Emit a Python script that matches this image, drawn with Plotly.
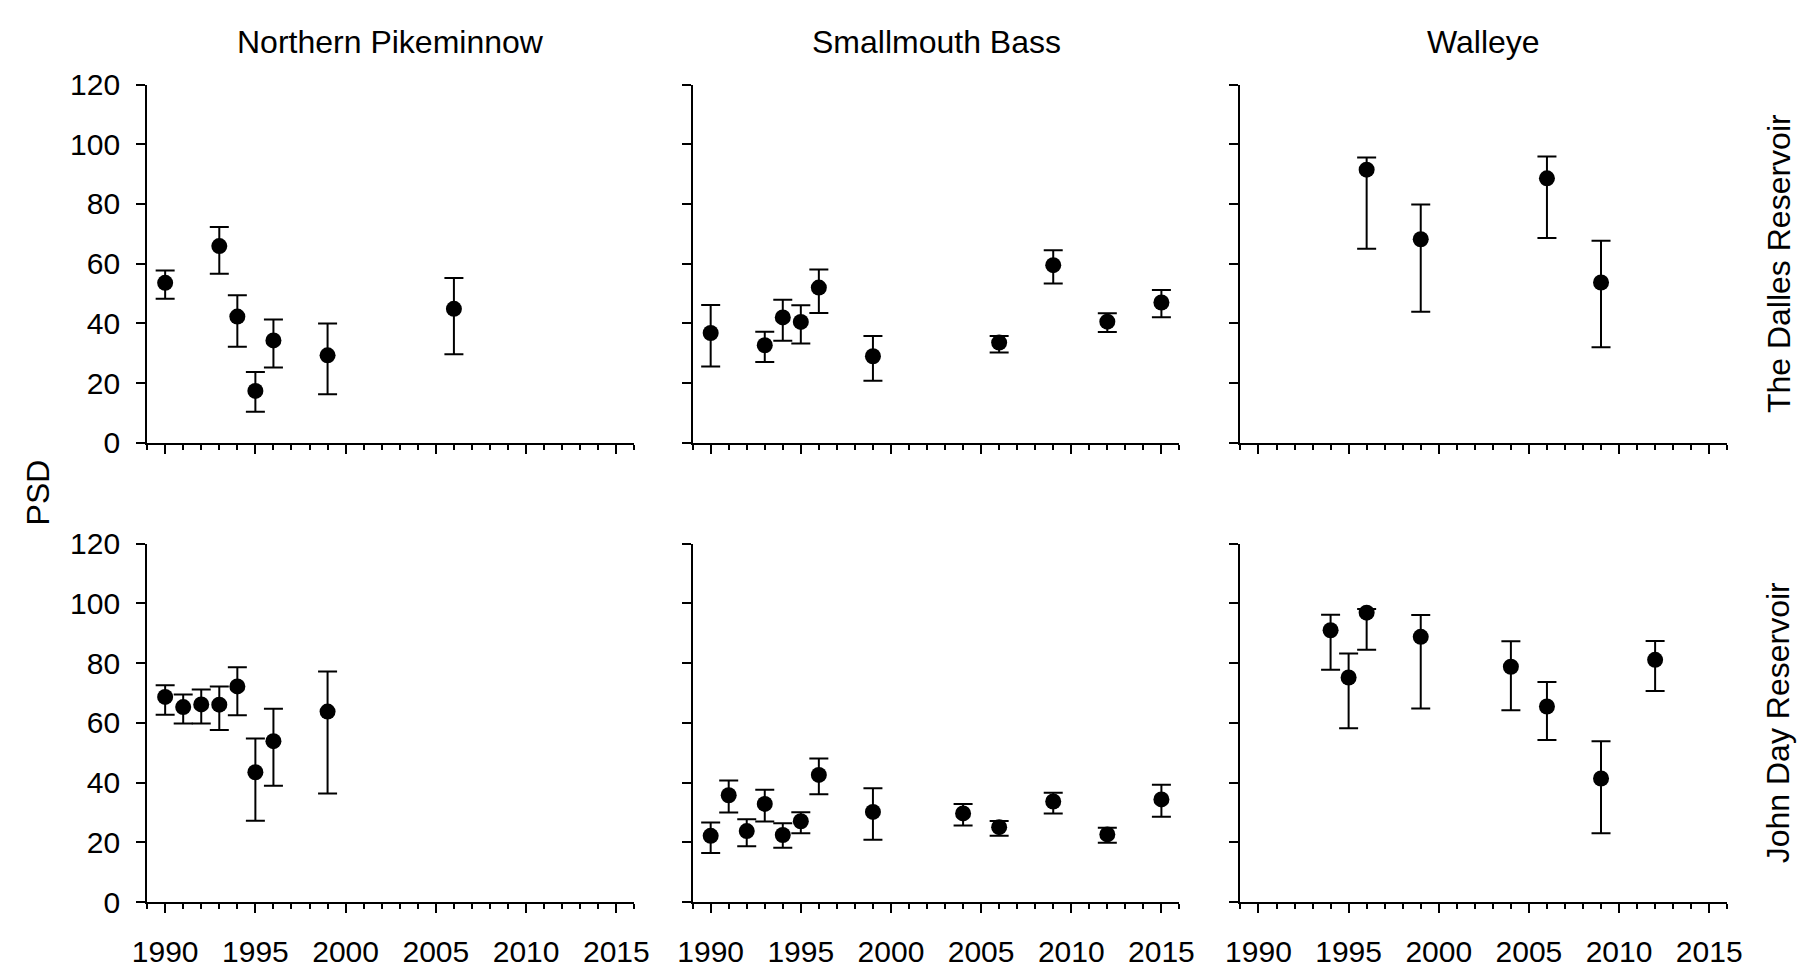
import plotly.graph_objects as go

# ---------------- data (PSD with 95% CI) ----------------
# Northern Pikeminnow - The Dalles Reservoir
np_td_years = [1990, 1993, 1994, 1995, 1996, 1999, 2006]
np_td_psd = [53.6, 65.9, 42.3, 17.4, 34.3, 29.3, 44.9]
np_td_upper = [57.7, 72.3, 49.4, 23.7, 41.3, 40.0, 55.2]
np_td_lower = [48.3, 56.6, 32.2, 10.4, 25.2, 16.3, 29.7]

# Smallmouth Bass - The Dalles Reservoir
smb_td_years = [1990, 1993, 1994, 1995, 1996, 1999, 2006, 2009, 2012, 2015]
smb_td_psd = [36.8, 32.7, 42.0, 40.5, 52.0, 29.0, 33.6, 59.5, 40.6, 47.0]
smb_td_upper = [46.2, 37.2, 47.9, 46.1, 58.1, 35.8, 35.8, 64.5, 43.4, 51.2]
smb_td_lower = [25.6, 27.1, 34.2, 33.3, 43.5, 20.8, 30.3, 53.4, 37.1, 42.1]

# Walleye - The Dalles Reservoir
wal_td_years = [1996, 1999, 2006, 2009]
wal_td_psd = [91.5, 68.2, 88.6, 53.7]
wal_td_upper = [95.6, 79.8, 95.9, 67.7]
wal_td_lower = [65.0, 43.9, 68.6, 32.0]

# Northern Pikeminnow - John Day Reservoir
np_jd_years = [1990, 1991, 1992, 1993, 1994, 1995, 1996, 1999]
np_jd_psd = [68.7, 65.3, 66.2, 66.1, 72.2, 43.5, 53.9, 63.8]
np_jd_upper = [72.6, 69.5, 71.2, 72.2, 78.6, 54.8, 64.7, 77.2]
np_jd_lower = [62.7, 59.8, 59.8, 57.6, 62.6, 27.3, 39.0, 36.4]

# Smallmouth Bass - John Day Reservoir
smb_jd_years = [1990, 1991, 1992, 1993, 1994, 1995, 1996, 1999, 2004, 2006, 2009, 2012, 2015]
smb_jd_psd = [22.2, 35.8, 23.8, 32.9, 22.5, 27.1, 42.6, 30.2, 29.7, 25.1, 33.7, 22.7, 34.4]
smb_jd_upper = [26.7, 40.7, 27.8, 37.6, 26.4, 30.1, 48.1, 38.1, 32.9, 27.2, 36.6, 24.9, 39.3]
smb_jd_lower = [16.5, 30.0, 18.7, 27.0, 18.2, 23.1, 36.1, 20.9, 25.7, 22.2, 29.7, 19.9, 28.6]

# Walleye - John Day Reservoir
wal_jd_years = [1994, 1995, 1996, 1999, 2004, 2006, 2009, 2012]
wal_jd_psd = [91.0, 75.2, 96.9, 88.8, 78.8, 65.5, 41.4, 81.1]
wal_jd_upper = [96.2, 83.2, 98.1, 96.1, 87.3, 73.7, 53.9, 87.4]
wal_jd_lower = [77.8, 58.2, 84.5, 64.8, 64.2, 54.3, 23.1, 70.7]

species = ["Northern Pikeminnow", "Smallmouth Bass", "Walleye"]
reservoirs = ["The Dalles Reservoir", "John Day Reservoir"]
x_ticks = [1990, 1995, 2000, 2005, 2010, 2015]
y_ticks = [0, 20, 40, 60, 80, 100, 120]

panels = [
    (np_td_years, np_td_psd, np_td_upper, np_td_lower),
    (smb_td_years, smb_td_psd, smb_td_upper, smb_td_lower),
    (wal_td_years, wal_td_psd, wal_td_upper, wal_td_lower),
    (np_jd_years, np_jd_psd, np_jd_upper, np_jd_lower),
    (smb_jd_years, smb_jd_psd, smb_jd_upper, smb_jd_lower),
    (wal_jd_years, wal_jd_psd, wal_jd_upper, wal_jd_lower),
]

W, H = 1817, 972
FONT = "Liberation Sans, Arial, sans-serif"
TICK_FS = 30
LABEL_FS = 32

x_dom_px = [(134.3, 629.8), (689.0, 1184.0), (1246.0, 1741.0)]
y_dom_px = [(70.0, 441.3), (545.7, 917.3)]

fig = go.Figure()
layout = dict(
    width=W, height=H,
    margin=dict(l=0, r=0, t=0, b=0),
    paper_bgcolor="white", plot_bgcolor="white",
    showlegend=False,
    font=dict(family=FONT, size=TICK_FS, color="black"),
)

for i, (yrs, psd, up, lo) in enumerate(panels):
    r, c = divmod(i, 3)
    n = i + 1
    xa = "x" if n == 1 else f"x{n}"
    ya = "y" if n == 1 else f"y{n}"
    fig.add_trace(go.Scatter(
        x=yrs, y=psd, mode="markers", xaxis=xa, yaxis=ya,
        marker=dict(size=16, color="black"),
        error_y=dict(type="data", symmetric=False,
                     array=[u - v for u, v in zip(up, psd)],
                     arrayminus=[v - l for v, l in zip(psd, lo)],
                     width=9.5, thickness=2, color="black"),
        cliponaxis=False,
    ))
    xk = "xaxis" if n == 1 else f"xaxis{n}"
    yk = "yaxis" if n == 1 else f"yaxis{n}"
    x0, x1 = x_dom_px[c]
    y0, y1 = y_dom_px[r]
    layout[xk] = dict(
        domain=[x0 / W, x1 / W], anchor=ya,
        range=[1988.999, 2016.001],
        tickmode="array", tickvals=x_ticks,
        showticklabels=(r == 1),
        ticks="outside", ticklen=9, tickwidth=2, tickcolor="black",
        showline=True, linecolor="black", linewidth=2,
        showgrid=False, zeroline=False,
        ticklabelstandoff=13,
        tickfont=dict(family=FONT, size=TICK_FS, color="black"),
        minor=dict(ticks="outside", tickmode="linear", tick0=1989, dtick=1,
                   ticklen=5, tickwidth=1.5, tickcolor="black", showgrid=False),
    )
    layout[yk] = dict(
        domain=[1 - y1 / H, 1 - y0 / H], anchor=xa,
        range=[0, 120.001],
        tickmode="array", tickvals=y_ticks,
        showticklabels=(c == 0),
        ticks="outside", ticklen=9, tickwidth=2, tickcolor="black",
        showline=True, linecolor="black", linewidth=2,
        showgrid=False, zeroline=False,
        ticklabelstandoff=10,
        tickfont=dict(family=FONT, size=TICK_FS, color="black"),
    )

annotations = []
for c, name in enumerate(species):
    x0, x1 = x_dom_px[c]
    annotations.append(dict(
        text=name, x=(x0 + x1) / 2 / W, y=1 - 25.5 / H,
        xref="paper", yref="paper", showarrow=False,
        xanchor="center", yanchor="middle",
        font=dict(family=FONT, size=LABEL_FS, color="black")))
for r, name in enumerate(reservoirs):
    y0, y1 = y_dom_px[r]
    annotations.append(dict(
        text=name, x=1793 / W, y=1 - (y0 + y1) / 2 / H,
        xref="paper", yref="paper", showarrow=False, textangle=-90,
        xanchor="center", yanchor="middle",
        font=dict(family=FONT, size=LABEL_FS, color="black")))
annotations.append(dict(
    text="PSD", x=23 / W, y=1 - 493 / H,
    xref="paper", yref="paper", showarrow=False, textangle=-90,
    xanchor="center", yanchor="middle",
    font=dict(family=FONT, size=LABEL_FS, color="black")))
layout["annotations"] = annotations

fig.update_layout(**layout)
fig.write_html("out.html")
